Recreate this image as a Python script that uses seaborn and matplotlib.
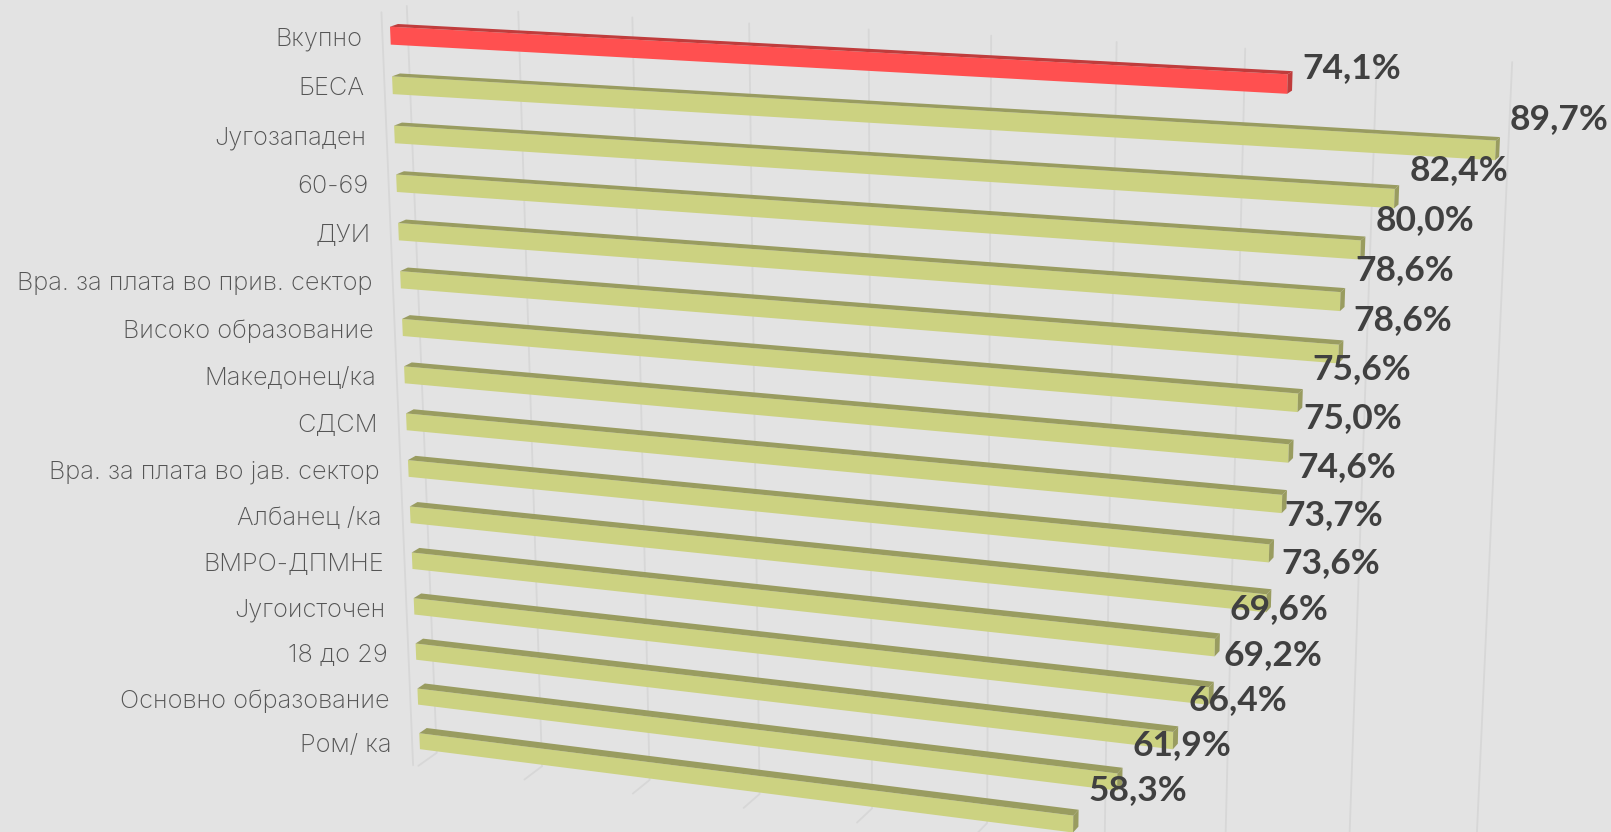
import numpy as np
import pandas as pd
import matplotlib
matplotlib.use("Agg")
import matplotlib.pyplot as plt
from matplotlib.path import Path
from matplotlib.transforms import Transform
import seaborn as sns

categories = ["Вкупно", "БЕСА", "Југозападен", "60-69", "ДУИ",
              "Вра. за плата во прив. сектор", "Високо образование",
              "Македонец/ка", "СДСМ", "Вра. за плата во јав. сектор",
              "Албанец /ка", "ВМРО-ДПМНЕ", "Југоисточен", "18 до 29",
              "Основно образование", "Ром/ ка"]
values = [74.1, 89.7, 82.4, 80.0, 78.6, 78.6, 75.6, 75.0, 74.6, 73.7, 73.6,
          69.6, 69.2, 66.4, 61.9, 58.3]
value_labels = ["74,1%", "89,7%", "82,4%", "80,0%", "78,6%", "78,6%", "75,6%",
                "75,0%", "74,6%", "73,7%", "73,6%", "69,6%", "69,2%", "66,4%",
                "61,9%", "58,3%"]
grid_values = [0, 10, 20, 30, 40, 50, 60, 70, 80, 90]

BG = "#e3e3e3"
FRONT, TOP = "#ccd281", "#999c60"
RED_FRONT, RED_TOP = "#ff5050", "#c03c3c"
GRID = "#d7d7d7"
BAR_WIDTH = 0.36


def project(v, r, d=0.0):
    """Perspective projection: value v, row r, depth d -> reference pixel."""
    t, s = np.asarray(v, float) / 100.0, np.asarray(r, float) / 15.0
    w = 1 - 0.115 * t + 0.058 * s + 0.0039 * d
    x = (390 + 1063.4 * t + 53.6 * s + 9.5 * d) / w
    y = (26.7 + 55.7 * t + 749.0 * s - 2.6 * d) / w
    return x, y


class Perspective(Transform):
    input_dims = output_dims = 2
    is_separable = False

    def transform_non_affine(self, xy):
        xy = np.asarray(xy, float)
        x, y = project(xy[:, 0], xy[:, 1] + BAR_WIDTH / 2)
        return np.column_stack([x, y])

    def transform_path_non_affine(self, path):
        return Path(self.transform_non_affine(path.vertices), path.codes)


sns.set_theme(style="white")
plt.rcParams["font.family"] = ["Inter", "Noto Sans", "DejaVu Sans"]

fig = plt.figure(figsize=(16.11, 8.32), dpi=100, facecolor=BG)
ax = fig.add_axes([0, 0, 1, 1], facecolor=BG)

df = pd.DataFrame({"category": categories, "value": values})
palette = {c: (RED_FRONT if i == 0 else FRONT) for i, c in enumerate(categories)}
sns.barplot(data=df, x="value", y="category", hue="category", order=categories,
            hue_order=categories, palette=palette, width=BAR_WIDTH, dodge=False,
            saturation=1, legend=False, linewidth=0, ax=ax, zorder=3)

persp = Perspective() + ax.transData
for patch in ax.patches:
    patch.set_transform(persp)

ax.set_xlim(0, 1611)
ax.set_ylim(832, 0)
ax.axis("off")

# back wall, floor and left wall lines
R_TOP, R_BOTTOM, D_FRONT, D_BACK = -0.3, 15.7, -0.3, 2.2
for v in grid_values:
    pts = [project(v, R_BOTTOM, D_FRONT), project(v, R_BOTTOM, D_BACK),
           project(v, R_TOP, D_BACK)]
    ax.plot(*zip(*pts), color=GRID, lw=1.3, zorder=1, solid_joinstyle="miter")
pts = [project(-0.5, R_TOP, D_FRONT), project(-0.5, R_BOTTOM, D_FRONT)]
ax.plot(*zip(*pts), color=GRID, lw=1.3, zorder=1)

# faces of each bar
for i, (val, cat, lab) in enumerate(zip(values, categories, value_labels)):
    top_col = RED_TOP if i == 0 else TOP
    rt, rb = i, i + BAR_WIDTH
    top = [project(0, rt, 0), project(0, rt, 1), project(val, rt, 1), project(val, rt, 0)]
    side = [project(val, rt, 0), project(val, rt, 1), project(val, rb, 1), project(val, rb, 0)]
    ax.fill(*zip(*top), color=top_col, lw=0, zorder=3)
    ax.fill(*zip(*side), color=top_col, lw=0, zorder=3)

    x0, y0 = project(0, i)
    ax.text(x0 - 28, y0 + 12.5, cat, ha="right", va="center", fontsize=18.3,
            fontweight="light", color="#555555", zorder=5)
    xe, _ = project(val, i, 1)
    ax.text(xe + 10, y0 + 41 + 1.6 * min(i, 10), lab, ha="left", va="center",
            fontsize=25.5, fontweight="bold", color="#404040", zorder=6,
            family=["Lato", "DejaVu Sans"])

fig.savefig("out.png", dpi=100, facecolor=BG)
